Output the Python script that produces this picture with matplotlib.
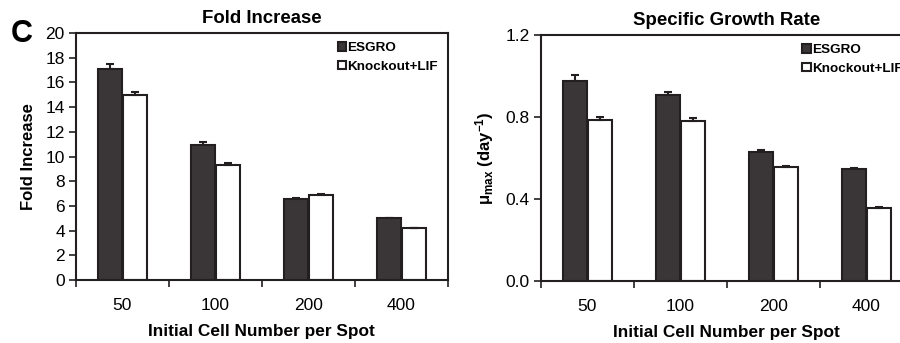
import matplotlib
matplotlib.use('Agg')
import matplotlib.pyplot as plt
import numpy as np

plt.rcParams['font.family'] = ['Liberation Sans', 'DejaVu Sans']
plt.rcParams['mathtext.fontset'] = 'custom'
plt.rcParams['mathtext.rm'] = 'Liberation Sans'
plt.rcParams['mathtext.bf'] = 'Liberation Sans:bold'
plt.rcParams['mathtext.it'] = 'Liberation Sans:italic'

cells = ['50', '100', '200', '400']
fold_esgro = [17.1, 10.9, 6.55, 5.0]
fold_esgro_err = [0.4, 0.25, 0.12, 0.06]
fold_ko = [15.0, 9.35, 6.9, 4.2]
fold_ko_err = [0.25, 0.15, 0.1, 0.05]
rate_esgro = [0.975, 0.905, 0.63, 0.545]
rate_esgro_err = [0.03, 0.018, 0.008, 0.008]
rate_ko = [0.785, 0.778, 0.555, 0.355]
rate_ko_err = [0.015, 0.015, 0.008, 0.004]

dark = '#3a3536'
edge = '#231f20'


def bars(ax, esgro, esgro_err, ko, ko_err, ymax, yticks, ylabels, title, ylabel):
    x = np.arange(len(cells))
    w = 0.26
    ax.bar(x - w / 2 - 0.005, esgro, w, color=dark, edgecolor=edge, linewidth=1.5, label='ESGRO', zorder=2)
    ax.bar(x + w / 2 + 0.005, ko, w, color='white', edgecolor=edge, linewidth=1.5, label='Knockout+LIF', zorder=2)
    ax.errorbar(x - w / 2 - 0.005, esgro, yerr=[np.zeros(4), esgro_err], fmt='none', ecolor=edge,
                elinewidth=1.5, capsize=3, capthick=1.5, zorder=3)
    ax.errorbar(x + w / 2 + 0.005, ko, yerr=[np.zeros(4), ko_err], fmt='none', ecolor=edge,
                elinewidth=1.5, capsize=3, capthick=1.5, zorder=3)
    ax.set_xlim(-0.5, 3.5)
    ax.set_ylim(0, ymax)
    ax.set_xticks(x)
    ax.set_xticklabels(cells, fontsize=12.5)
    ax.set_xticks(np.arange(-0.5, 4, 1), minor=True)
    ax.tick_params(axis='x', which='major', length=0, pad=13)
    ax.tick_params(axis='x', which='minor', length=5, width=1.2, direction='out', color=edge)
    ax.set_yticks(yticks)
    ax.set_yticklabels(ylabels, fontsize=12.5)
    ax.tick_params(axis='y', length=5, width=1.2, direction='out', color=edge, pad=3)
    for s in ax.spines.values():
        s.set_linewidth(1.5)
        s.set_color(edge)
    ax.set_title(title, fontsize=13.4, fontweight='bold', pad=7)
    ax.set_xlabel('Initial Cell Number per Spot', fontsize=12.4, fontweight='bold', labelpad=8)
    ax.set_ylabel(ylabel, fontsize=12, fontweight='bold', labelpad=7)
    ax.legend(loc='upper right', frameon=False, prop={'weight': 'bold', 'size': 9.7},
              handlelength=0.6, handleheight=0.6, handletextpad=0.15, labelspacing=0.45,
              borderaxespad=0.3)


fig = plt.figure(figsize=(9, 3.43), dpi=100)
ax1 = fig.add_axes([0.0844, 0.1837, 0.413, 0.720])
ax2 = fig.add_axes([0.601, 0.181, 0.413, 0.717])

bars(ax1, fold_esgro, fold_esgro_err, fold_ko, fold_ko_err, 20,
     range(0, 21, 2), [str(v) for v in range(0, 21, 2)], 'Fold Increase', 'Fold Increase')
bars(ax2, rate_esgro, rate_esgro_err, rate_ko, rate_ko_err, 1.2,
     [0, 0.4, 0.8, 1.2], ['0.0', '0.4', '0.8', '1.2'], 'Specific Growth Rate',
     r'μ$_{\mathbf{max}}$ (day$^{\mathbf{-1}}$)')

fig.text(0.012, 0.9, 'C', fontsize=22, fontweight='bold', va='center')

fig.savefig('out.png', dpi=100)
